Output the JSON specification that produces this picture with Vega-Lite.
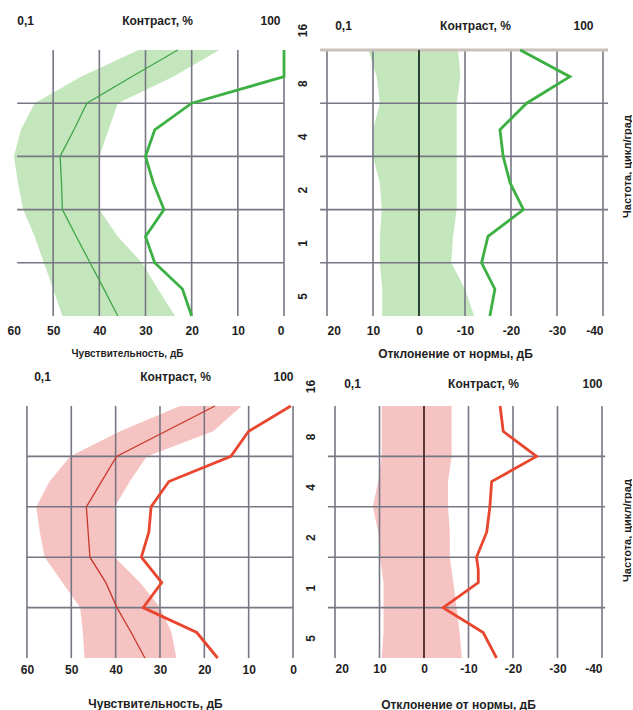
{
  "$schema": "https://vega.github.io/schema/vega-lite/v6.json",
  "padding": {"left": 7, "top": 14, "right": 0, "bottom": 0},
  "background": "white",
  "datasets": {
    "tl": [
      {"f": 16, "p": 0, "n": 23, "lo": 14, "hi": 31.5},
      {"f": 11.3, "p": 0, "n": 33, "lo": 24, "hi": 44},
      {"f": 8, "p": 20, "n": 42.7, "lo": 36, "hi": 54},
      {"f": 5.66, "p": 28, "n": 45.5, "lo": 38, "hi": 57},
      {"f": 4, "p": 30, "n": 48.5, "lo": 40, "hi": 58.5},
      {"f": 2.83, "p": 28.3, "n": 48.2, "lo": 40, "hi": 57.6},
      {"f": 2, "p": 26, "n": 48, "lo": 40, "hi": 56.5},
      {"f": 1.41, "p": 30, "n": 45, "lo": 36, "hi": 54},
      {"f": 1, "p": 28, "n": 42, "lo": 30.8, "hi": 52},
      {"f": 0.71, "p": 22, "n": 39, "lo": 27.3, "hi": 50},
      {"f": 0.5, "p": 20, "n": 36, "lo": 23.6, "hi": 48}
    ],
    "tr": [
      {"f": 16, "p": -22, "lo": -8.5, "hi": 11},
      {"f": 11.3, "p": -32.8, "lo": -9, "hi": 9.2},
      {"f": 8, "p": -23.4, "lo": -8.2, "hi": 8.5},
      {"f": 5.66, "p": -17.6, "lo": -8.2, "hi": 10},
      {"f": 4, "p": -18.3, "lo": -8.2, "hi": 10},
      {"f": 2.83, "p": -19.8, "lo": -8.2, "hi": 8.5},
      {"f": 2, "p": -22.7, "lo": -8.2, "hi": 8.1},
      {"f": 1.41, "p": -15, "lo": -7.4, "hi": 8.5},
      {"f": 1, "p": -13.6, "lo": -7, "hi": 8.5},
      {"f": 0.71, "p": -16.5, "lo": -10, "hi": 8},
      {"f": 0.5, "p": -15.4, "lo": -12, "hi": 8}
    ],
    "bl": [
      {"f": 16, "p": 0.5, "n": 17.6, "lo": 11.6, "hi": 25.5},
      {"f": 11.3, "p": 10, "n": 28.7, "lo": 18, "hi": 39},
      {"f": 8, "p": 14, "n": 39.8, "lo": 33, "hi": 50.3},
      {"f": 5.66, "p": 28, "n": 43.2, "lo": 36.8, "hi": 54.9},
      {"f": 4, "p": 32, "n": 46.6, "lo": 40.2, "hi": 57.9},
      {"f": 2.83, "p": 32.5, "n": 46.2, "lo": 40.2, "hi": 57.1},
      {"f": 2, "p": 34.2, "n": 45.8, "lo": 40.2, "hi": 56},
      {"f": 1.41, "p": 29.6, "n": 42.2, "lo": 34.5, "hi": 52},
      {"f": 1, "p": 33.8, "n": 39.7, "lo": 30, "hi": 48},
      {"f": 0.71, "p": 21.7, "n": 36.5, "lo": 27.4, "hi": 47.4},
      {"f": 0.5, "p": 17, "n": 33.4, "lo": 26.3, "hi": 47}
    ],
    "br": [
      {"f": 16, "p": -17.1, "lo": -6.2, "hi": 9.5},
      {"f": 11.3, "p": -17.8, "lo": -6.2, "hi": 9.5},
      {"f": 8, "p": -25.3, "lo": -6.2, "hi": 9.5},
      {"f": 5.66, "p": -15.2, "lo": -5.4, "hi": 10.3},
      {"f": 4, "p": -14.8, "lo": -5.4, "hi": 11.5},
      {"f": 2.83, "p": -14.1, "lo": -5.8, "hi": 10.3},
      {"f": 2, "p": -11.8, "lo": -5.8, "hi": 9.9},
      {"f": 1.68, "p": -12.2, "lo": -6.2, "hi": 9.5},
      {"f": 1.41, "p": -12.2, "lo": -6.6, "hi": 9.1},
      {"f": 1, "p": -4.3, "lo": -7.3, "hi": 9.1},
      {"f": 0.71, "p": -13.3, "lo": -8, "hi": 9.1},
      {"f": 0.5, "p": -16.3, "lo": -8.5, "hi": 9.5}
    ]
  },
  "spacing": 11,
  "vconcat": [
    {
      "bounds": "flush",
      "spacing": 43,
      "hconcat": [
        {
          "width": 277, "height": 266,
          "data": {"name": "tl"},
          "layer": [
            {
              "mark": {"type": "area", "orient": "horizontal", "fill": "#c4e6bd"},
              "encoding": {
                "y": {"field": "f", "type": "quantitative", "scale": {"type": "log", "base": 2, "domain": [0.5, 16], "nice": false},
                  "axis": {"orient": "right", "values": [16, 8, 4, 2, 1, 0.5], "labelExpr": "datum.value < 1 ? '5' : '' + datum.value", "labelAngle": 270, "labelAlign": "center", "labelBaseline": "top", "labelPadding": 13, "labelOffset": -20, "labelOverlap": false, "title": null}},
                "x": {"field": "hi", "type": "quantitative", "scale": {"domain": [0, 60], "reverse": true, "nice": false, "zero": false},
                  "axis": {"orient": "bottom", "values": [0, 10, 20, 30, 40, 50, 60], "labelFlush": true, "labelPadding": 14, "labelBaseline": "middle", "labelOverlap": false, "title": "Чувствительность, дБ", "titleFontSize": 10, "titleX": 120, "titleY": 37, "titleBaseline": "middle", "titleAlign": "center"}},
                "x2": {"field": "lo"}
              }
            },
            {
              "data": {"values": [{"v": 0}, {"v": 10}, {"v": 20}, {"v": 30}, {"v": 40}, {"v": 50}]},
              "mark": {"type": "rule", "color": "#777784", "strokeWidth": 1.6},
              "encoding": {"x": {"field": "v", "type": "quantitative", "axis": null}, "y": {"datum": 16}, "y2": {"datum": 0.5}}
            },
            {
              "data": {"values": [{"f": 1}, {"f": 2}, {"f": 4}, {"f": 8}]},
              "mark": {"type": "rule", "color": "#777784", "strokeWidth": 1.6},
              "encoding": {"y": {"field": "f", "type": "quantitative"}, "x": {"datum": 57.8, "axis": null}, "x2": {"datum": 0}}
            },
            {
              "mark": {"type": "line", "color": "#3fa648", "strokeWidth": 1.3},
              "encoding": {
                "y": {"field": "f", "type": "quantitative"},
                "x": {"field": "n", "type": "quantitative",
                  "axis": {"orient": "top", "values": [56.06, 27.49, 3.03], "labelExpr": "datum.value > 40 ? '0,1' : datum.value > 10 ? 'Контраст, %' : '100'", "labelPadding": 30, "labelBaseline": "middle", "labelOverlap": false, "labelFlush": false, "title": null}},
                "order": {"field": "f", "type": "quantitative"}
              }
            },
            {
              "mark": {"type": "line", "color": "#3cb043", "strokeWidth": 2.8},
              "encoding": {
                "y": {"field": "f", "type": "quantitative"},
                "x": {"field": "p", "type": "quantitative", "axis": null},
                "order": {"field": "f", "type": "quantitative"}
              }
            }
          ],
          "resolve": {"axis": {"x": "independent"}}
        },
        {
          "width": 276, "height": 266,
          "data": {"name": "tr"},
          "layer": [
            {
              "mark": {"type": "area", "orient": "horizontal", "fill": "#c4e6bd"},
              "encoding": {
                "y": {"field": "f", "type": "quantitative", "scale": {"type": "log", "base": 2, "domain": [0.5, 16], "nice": false},
                  "axis": {"orient": "right", "labels": false, "title": "Частота, цикл/град", "titleFontSize": 11, "titleAngle": 270, "titleBaseline": "top", "titleAlign": "center", "titleX": 18, "titleY": 116}},
                "x": {"field": "hi", "type": "quantitative", "scale": {"domain": [-40, 20], "reverse": true, "nice": false, "zero": false},
                  "axis": {"orient": "bottom", "values": [20, 10, 0, -10, -20, -30, -40], "labelExpr": "'' + datum.value", "labelPadding": 14, "labelBaseline": "middle", "labelOverlap": false, "title": "Отклонение от нормы, дБ", "titleX": 128, "titleY": 37, "titleBaseline": "middle", "titleAlign": "center"}},
                "x2": {"field": "lo"}
              }
            },
            {
              "data": {"values": [{"v": 20}, {"v": 10}, {"v": -10}, {"v": -20}, {"v": -30}, {"v": -40}]},
              "mark": {"type": "rule", "color": "#777784", "strokeWidth": 1.6},
              "encoding": {"x": {"field": "v", "type": "quantitative", "axis": null}, "y": {"datum": 16}, "y2": {"datum": 0.5}}
            },
            {
              "data": {"values": [{"f": 1}, {"f": 2}, {"f": 4}, {"f": 8}]},
              "mark": {"type": "rule", "color": "#777784", "strokeWidth": 1.6},
              "encoding": {"y": {"field": "f", "type": "quantitative"}, "x": {"datum": 21.5, "axis": null}, "x2": {"datum": -41.1}}
            },
            {
              "data": {"values": [{"f": 16}]},
              "mark": {"type": "rule", "color": "#c9c2ba", "strokeWidth": 3},
              "encoding": {"y": {"field": "f", "type": "quantitative"}, "x": {"datum": 21.5, "axis": null}, "x2": {"datum": -41.1}}
            },
            {
              "data": {"values": [{"v": 0}]},
              "mark": {"type": "rule", "color": "#2e3f33", "strokeWidth": 2},
              "encoding": {"x": {"field": "v", "type": "quantitative", "axis": null}, "y": {"datum": 16}, "y2": {"datum": 0.5}}
            },
            {
              "mark": {"type": "line", "color": "#3cb043", "strokeWidth": 2.8},
              "encoding": {
                "y": {"field": "f", "type": "quantitative"},
                "x": {"field": "p", "type": "quantitative",
                  "axis": {"orient": "top", "values": [16.52, -12.17, -35.65], "labelExpr": "datum.value > 0 ? '0,1' : datum.value > -20 ? 'Контраст, %' : '100'", "labelPadding": 25, "labelBaseline": "middle", "labelOverlap": false, "labelFlush": false, "title": null}},
                "order": {"field": "f", "type": "quantitative"}
              }
            }
          ],
          "resolve": {"axis": {"x": "independent"}}
        }
      ]
    },
    {
      "bounds": "flush",
      "spacing": 42,
      "hconcat": [
        {
          "width": 286, "height": 252,
          "data": {"name": "bl"},
          "layer": [
            {
              "mark": {"type": "area", "orient": "horizontal", "fill": "#f6c3c3"},
              "encoding": {
                "y": {"field": "f", "type": "quantitative", "scale": {"type": "log", "base": 2, "domain": [0.5, 16], "nice": false},
                  "axis": {"orient": "right", "values": [16, 8, 4, 2, 1, 0.5], "labelExpr": "datum.value < 1 ? '5' : '' + datum.value", "labelAngle": 270, "labelAlign": "center", "labelBaseline": "top", "labelPadding": 12, "labelOffset": -20, "labelOverlap": false, "title": null}},
                "x": {"field": "hi", "type": "quantitative", "scale": {"domain": [0, 64.5], "reverse": true, "nice": false, "zero": false},
                  "axis": {"orient": "bottom", "values": [0, 10, 20, 30, 40, 50, 60], "labelFlush": false, "labelPadding": 11, "labelBaseline": "middle", "labelOverlap": false, "title": "Чувствительность, дБ", "titleFontSize": 12, "titleX": 148, "titleY": 45, "titleBaseline": "middle", "titleAlign": "center"}},
                "x2": {"field": "lo"}
              }
            },
            {
              "data": {"values": [{"v": 0}, {"v": 10}, {"v": 20}, {"v": 30}, {"v": 40}, {"v": 50}, {"v": 60}]},
              "mark": {"type": "rule", "color": "#777784", "strokeWidth": 1.6},
              "encoding": {"x": {"field": "v", "type": "quantitative", "axis": null}, "y": {"datum": 16}, "y2": {"datum": 0.5}}
            },
            {
              "data": {"values": [{"f": 1}, {"f": 2}, {"f": 4}, {"f": 8}]},
              "mark": {"type": "rule", "color": "#777784", "strokeWidth": 1.6},
              "encoding": {"y": {"field": "f", "type": "quantitative"}, "x": {"datum": 60, "axis": null}, "x2": {"datum": 0}}
            },
            {
              "mark": {"type": "line", "color": "#c8382a", "strokeWidth": 1.3},
              "encoding": {
                "y": {"field": "f", "type": "quantitative"},
                "x": {"field": "n", "type": "quantitative",
                  "axis": {"orient": "top", "values": [56.6, 26.6, 2.26], "labelExpr": "datum.value > 40 ? '0,1' : datum.value > 10 ? 'Контраст, %' : '100'", "labelPadding": 30, "labelBaseline": "middle", "labelOverlap": false, "labelFlush": false, "title": null}},
                "order": {"field": "f", "type": "quantitative"}
              }
            },
            {
              "mark": {"type": "line", "color": "#e8462e", "strokeWidth": 2.8},
              "encoding": {
                "y": {"field": "f", "type": "quantitative"},
                "x": {"field": "p", "type": "quantitative", "axis": null},
                "order": {"field": "f", "type": "quantitative"}
              }
            }
          ],
          "resolve": {"axis": {"x": "independent"}}
        },
        {
          "width": 267, "height": 252,
          "data": {"name": "br"},
          "layer": [
            {
              "mark": {"type": "area", "orient": "horizontal", "fill": "#f6c3c3"},
              "encoding": {
                "y": {"field": "f", "type": "quantitative", "scale": {"type": "log", "base": 2, "domain": [0.5, 16], "nice": false},
                  "axis": {"orient": "right", "labels": false, "title": "Частота, цикл/град", "titleFontSize": 11, "titleAngle": 270, "titleBaseline": "top", "titleAlign": "center", "titleX": 19, "titleY": 124}},
                "x": {"field": "hi", "type": "quantitative", "scale": {"domain": [-40, 20], "reverse": true, "nice": false, "zero": false},
                  "axis": {"orient": "bottom", "values": [20, 10, 0, -10, -20, -30, -40], "labelExpr": "'' + datum.value", "labelPadding": 10, "labelBaseline": "middle", "labelOverlap": false, "title": "Отклонение от нормы, дБ", "titleX": 123, "titleY": 46, "titleBaseline": "middle", "titleAlign": "center"}},
                "x2": {"field": "lo"}
              }
            },
            {
              "data": {"values": [{"v": 20}, {"v": 10}, {"v": -10}, {"v": -20}, {"v": -30}, {"v": -40}]},
              "mark": {"type": "rule", "color": "#777784", "strokeWidth": 1.6},
              "encoding": {"x": {"field": "v", "type": "quantitative", "axis": null}, "y": {"datum": 16}, "y2": {"datum": 0.5}}
            },
            {
              "data": {"values": [{"f": 1}, {"f": 2}, {"f": 4}, {"f": 8}]},
              "mark": {"type": "rule", "color": "#777784", "strokeWidth": 1.6},
              "encoding": {"y": {"field": "f", "type": "quantitative"}, "x": {"datum": 21.6, "axis": null}, "x2": {"datum": -40.7}}
            },
            {
              "data": {"values": [{"v": 0}]},
              "mark": {"type": "rule", "color": "#4a2a2a", "strokeWidth": 1.8},
              "encoding": {"x": {"field": "v", "type": "quantitative", "axis": null}, "y": {"datum": 16}, "y2": {"datum": 0.5}}
            },
            {
              "mark": {"type": "line", "color": "#e8462e", "strokeWidth": 2.8},
              "encoding": {
                "y": {"field": "f", "type": "quantitative"},
                "x": {"field": "p", "type": "quantitative",
                  "axis": {"orient": "top", "values": [16.18, -13.26, -37.75], "labelExpr": "datum.value > 0 ? '0,1' : datum.value > -20 ? 'Контраст, %' : '100'", "labelPadding": 23, "labelBaseline": "middle", "labelOverlap": false, "labelFlush": false, "title": null}},
                "order": {"field": "f", "type": "quantitative"}
              }
            }
          ],
          "resolve": {"axis": {"x": "independent"}}
        }
      ]
    }
  ],
  "config": {
    "view": {"stroke": null},
    "axis": {
      "domain": false, "ticks": false, "tickSize": 0, "grid": false,
      "labelFont": "Liberation Sans", "labelFontSize": 12, "labelFontWeight": "bold", "labelColor": "#1e1e1e",
      "titleFont": "Liberation Sans", "titleFontSize": 12, "titleFontWeight": "bold", "titleColor": "#1e1e1e"
    }
  }
}
